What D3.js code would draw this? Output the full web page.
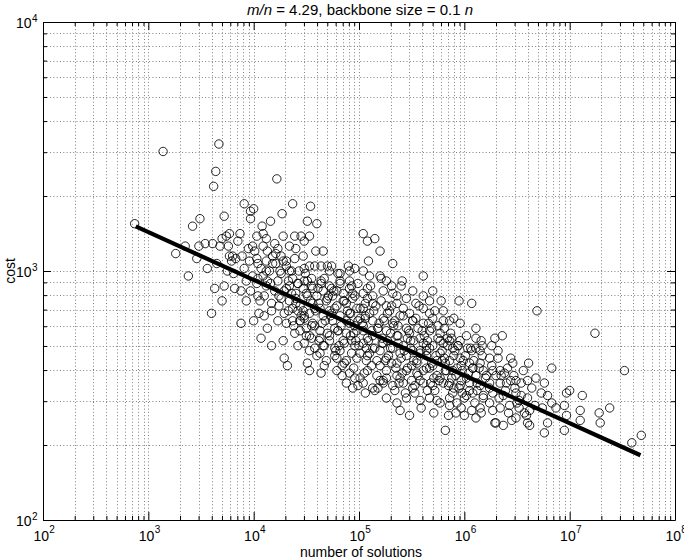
<!DOCTYPE html>
<html>
<head>
<meta charset="utf-8">
<script src="https://cdn.jsdelivr.net/npm/d3@7"></script>
<style>
  body { margin: 0; background: #fff; }
  svg { display: block; }
  text { font-family: "Liberation Sans", Arial, Helvetica, sans-serif; fill: #000; }
</style>
</head>
<body>
<svg id="chart" width="684" height="560"></svg>
<script>
// ---------------- data (log10 units of a log-log plot) ----------------
// log10(number of solutions) for each instance
const solutionsExp = [
  // sparse left part
  2.87,3.14,3.26,3.35,3.38,3.42,3.49,3.46,3.48,3.54, 3.56,3.61,3.62,3.64,3.67,3.60,3.63,3.65,3.68,3.70,
  3.70,3.72,3.72,3.74,3.76,3.77,3.87,3.77,3.80,3.83, 3.79,3.89,3.81,3.82,3.88,3.93,3.88,3.91,3.93,3.85,
  3.91,3.95,3.75,
  // 1e4 .. 3e4
  3.97,4.00,3.97,4.03,4.09,4.12,4.08,4.16,4.03,4.04, 4.12,4.18,4.15,4.09,4.03,4.12,4.22,4.37,4.27,4.28,
  4.39,4.13,4.21,4.26,4.31,4.40,4.39,4.21,4.28,4.31, 4.23,4.33,4.42,4.43,4.06,4.17,4.26,4.37,4.00,4.05,
  4.17,4.31,4.44,3.99,4.20,4.34,4.07,4.25,4.36,4.29, 4.40,3.97,4.20,4.34,4.23,4.13,4.07,4.28,4.39,4.17,
  4.29,4.32,4.42,4.24,4.42,4.10,3.96,3.99,4.13,4.34, 4.04,4.37,
  // 3e4 .. 1e5
  4.54,4.51,4.60,4.45,4.53,4.48,4.66,4.53,4.58,4.64, 4.70,4.74,4.90,4.96,4.80,4.47,4.56,4.64,4.72,4.82,
  4.56,4.48,4.72,4.91,4.47,4.59,
  4.48,4.55,4.82,4.91,4.99,
  4.50,4.60,4.66,4.75,4.85,4.94,
  4.63,4.69,4.79,4.88,4.98,4.44,
  4.48,4.66,4.75,4.82,4.91,5.01,
  4.44,4.53,4.63,4.72,4.80,4.88,4.98,
  4.48,4.58,4.67,4.77,4.86,4.96,
  4.51,4.60,4.69,4.79,4.88,4.98,
  4.53,4.64,4.79,4.84,4.91,5.01,
  4.88,4.94,4.99,
  // 1e5 .. 7e5
  5.04,5.08,5.15,5.20,5.09,5.32,5.61,5.04,5.10,5.20, 5.21,5.26,5.41,5.40,5.45,5.54,5.67,5.78,
  5.04,5.13,5.23,5.32,5.51,5.61,5.70,
  5.04,5.13,5.26,5.36,5.61,5.80,
  5.06,5.13,5.23,5.32,5.42,5.51,5.61,5.70,5.80,
  5.04,5.13,5.26,5.36,5.48,5.58,5.67,5.77,
  5.04,5.13,5.23,5.32,5.42,5.51,5.61,5.70,5.80,
  5.08,5.17,5.26,5.36,5.45,5.55,5.64,5.74,5.81,
  5.08,5.17,5.26,5.36,5.45,5.55,5.64,5.74,5.83,
  5.04,5.13,5.23,5.32,5.42,5.51,5.61,5.70,5.80,
  5.26,5.36,5.45,5.58,5.67,5.77,
  5.39,5.48,5.59,5.71,5.85,
  5.82,5.15,
  // core, second layer
  4.55,4.74,4.93,5.08,5.31,
  4.53,4.72,4.91,5.10,5.29,5.48,5.67,
  4.58,4.77,4.96,5.18,5.37,5.56,5.75,
  4.55,4.72,4.93,5.08,5.27,5.46,5.65,5.84,
  4.63,4.82,5.01,5.20,5.39,5.58,5.77,
  4.67,4.86,5.12,5.31,5.50,5.69,
  4.96,5.20,5.39,5.58,5.77,
  5.06,5.34,5.53,5.72,
  // 7e5 and up
  5.95,6.07,6.69,5.90,6.11,6.02,5.88,5.86,5.96,5.94,
  5.89,6.16,6.17,6.29,6.36,6.26,6.07,6.03,6.11,6.15,
  5.86,5.96,6.05,6.15,6.24,6.32,6.44,6.46,6.61,6.83,
  5.89,5.98,6.08,6.18,6.27,6.34,6.38,6.30,6.21,6.11,
  6.02,5.92,6.68,6.60,6.44,6.49,6.54,6.40,6.48,5.86,
  5.96,6.05,6.15,6.24,6.34,6.73,6.79,6.97,7.00,7.12,
  5.89,5.98,6.08,6.18,6.27,6.37,6.49,6.60,6.52,6.83,
  6.95,6.87,7.10,7.38,7.28,5.86,5.97,6.07,6.16,6.24,
  6.34,6.43,6.52,6.62,6.59,5.92,6.00,6.11,6.29,6.37,
  6.45,6.49,6.62,6.60,6.79,6.97,6.95,6.76,7.10,7.29,
  7.59,7.68,7.24,7.52,6.30,5.86,
  // core, third layer (dense band along the trend)
  4.01,4.04, 4.09,4.12,4.10, 4.18,4.16, 4.23,4.26,4.24, 4.31,4.29, 4.37,4.40,4.38, 4.47,4.45,
  4.51,4.54,4.50,4.53, 4.61,4.59,4.62, 4.67,4.70,4.68,4.66, 4.76,4.74,4.77, 4.82,4.85,4.83,4.81,4.84,
  4.91,4.89,4.92, 4.96,4.99,4.97,4.95, 5.06,5.04,5.07,5.05, 5.11,5.14,5.12,5.10, 5.21,5.19,5.22,5.20,5.18,
  5.27,5.30,5.28,5.26, 5.36,5.34,5.37,5.35, 5.42,5.45,5.43,5.41,5.44, 5.51,5.49,5.52,5.50,
  5.57,5.60,5.58,5.56, 5.66,5.64,5.67,5.65, 5.72,5.75,5.73,5.71,5.74, 5.81,5.79,5.82,
  5.87,5.90,5.88,5.86, 5.96,5.94,5.97,5.95,5.93, 6.01,6.04,6.02, 6.11,6.09,6.12,6.10,
  6.17,6.20,6.18, 6.26,6.24,6.27, 6.32,6.35,6.33, 6.41,6.39,6.42, 6.47,6.50, 6.56,6.54,6.57,
  6.64,6.67, 6.76,6.74,
  // core, fourth layer
  4.34,4.36,4.33, 4.42,4.40,4.44, 4.49,4.51,4.48,4.50, 4.56,4.58,4.55, 4.64,4.62,4.65,4.63,
  4.71,4.73,4.70, 4.79,4.77,4.80,4.78, 4.86,4.88,4.85, 4.94,4.92,4.95,4.93, 5.01,5.03,5.00,
  5.08,5.06,5.09,5.07, 5.16,5.18,5.15, 5.24,5.22,5.25,5.23, 5.31,5.33,5.30, 5.39,5.37,5.40,5.38,
  5.47,5.49,5.46, 5.54,5.52,5.55,5.53, 5.62,5.64,5.61, 5.69,5.67,5.70,5.68, 5.77,5.79,5.76,
  5.84,5.82,5.85, 5.91,5.93,5.90, 5.99,5.97,6.00, 6.06,6.08,6.05, 6.14,6.12,6.15
];
// log10(cost) for each instance, same order
const costExp = [
  3.19,3.48,3.07,3.10,2.98,3.18,3.21,3.05,3.10,3.11, 3.01,3.11,3.34,3.40,3.51,2.83,2.93,3.03,3.10,3.13,
  2.88,3.22,2.94,3.14,3.10,3.15,3.15,3.06,3.06,3.05, 3.04,3.06,2.99,2.93,2.92,2.88,2.79,3.27,2.96,3.12,
  3.01,3.09,3.00,
  3.24,3.25,3.21,3.14,3.15,3.13,3.18,3.20,3.05,3.03, 3.04,3.03,3.00,2.98,2.95,2.94,3.37,3.27,3.23,3.14,
  3.14,3.08,3.07,3.06,3.04,3.09,3.05,3.03,3.04,3.02, 2.96,2.96,2.95,3.00,2.88,2.87,2.89,2.85,2.80,2.83,
  2.84,2.79,2.80,3.10,3.11,3.10,3.01,3.00,3.00,2.92, 2.91,2.92,2.92,2.88,2.80,2.77,2.73,2.72,2.75,2.70,
  2.65,2.62,2.70,2.86,2.84,2.82,3.04,2.98,2.96,2.94, 2.90,2.80,
  3.26,3.20,3.19,3.14,3.14,3.12,3.08,3.02,3.02,3.02, 3.02,3.02,3.02,3.01,2.99,2.84,2.87,2.96,2.94,2.99,
  2.79,3.01,3.00,3.00,3.06,3.08,
  2.96,2.97,2.95,2.96,2.95,
  2.91,2.90,2.92,2.90,2.91,2.89,
  2.85,2.88,2.86,2.87,2.85,2.86,
  2.81,2.82,2.80,2.82,2.79,2.81,
  2.76,2.74,2.76,2.74,2.76,2.75,2.76,
  2.71,2.69,2.70,2.69,2.71,2.70,
  2.63,2.66,2.64,2.65,2.64,2.65,
  2.60,2.59,2.60,2.58,2.59,2.57,
  2.55,2.53,2.54,
  3.15,3.12,3.13,3.08,3.04,3.03,2.98,3.00,2.98,2.98, 2.97,2.96,2.96,2.94,2.89,2.87,2.88,2.88,
  2.91,2.90,2.92,2.91,2.92,2.90,2.92,
  2.85,2.87,2.86,2.87,2.85,2.84,
  2.82,2.80,2.81,2.79,2.82,2.80,2.79,2.81,2.80,
  2.76,2.74,2.76,2.74,2.75,2.73,2.76,2.75,
  2.71,2.69,2.71,2.69,2.70,2.68,2.71,2.70,2.71,
  2.66,2.64,2.65,2.63,2.66,2.64,2.66,2.64,2.65,
  2.60,2.58,2.60,2.58,2.60,2.59,2.61,2.58,2.60,
  2.55,2.53,2.55,2.54,2.55,2.53,2.55,2.54,2.55,
  2.49,2.47,2.49,2.48,2.49,2.47,
  2.44,2.42,2.45,2.43,2.42,
  2.36,2.52,
  2.94,2.93,2.94,2.93,2.94,
  2.83,2.84,2.83,2.83,2.84,2.83,2.83,
  2.78,2.77,2.78,2.77,2.78,2.77,2.78,
  2.73,2.72,2.72,2.73,2.72,2.73,2.72,2.73,
  2.67,2.68,2.67,2.68,2.67,2.68,2.67,
  2.62,2.63,2.62,2.63,2.62,2.63,
  2.57,2.56,2.57,2.56,2.57,
  2.51,2.52,2.51,2.52,
  2.88,2.87,2.84,2.81,2.77,2.74,2.73,2.72,2.72,2.70,
  2.69,2.72,2.70,2.73,2.74,2.70,2.68,2.69,2.69,2.68,
  2.64,2.65,2.63,2.63,2.65,2.65,2.65,2.63,2.63,2.61,
  2.60,2.60,2.61,2.60,2.60,2.60,2.59,2.58,2.58,2.58,
  2.57,2.58,2.57,2.56,2.56,2.56,2.55,2.55,2.53,2.55,
  2.54,2.55,2.54,2.55,2.55,2.51,2.50,2.51,2.52,2.50,
  2.51,2.51,2.51,2.50,2.51,2.50,2.51,2.49,2.48,2.47,
  2.46,2.45,2.44,2.45,2.43,2.46,2.45,2.44,2.43,2.47,
  2.45,2.46,2.45,2.44,2.42,2.43,2.42,2.41,2.39,2.38,
  2.40,2.41,2.38,2.39,2.39,2.42,2.36,2.35,2.40,2.39,
  2.31,2.34,2.75,2.60,2.39,2.80,
  3.08,2.97, 3.10,3.00,2.90, 3.06,2.95, 3.09,2.99,2.90, 2.93,2.83, 2.97,2.87,2.78, 2.93,2.82,
  2.96,2.88,2.77,2.68, 2.93,2.84,2.72, 2.97,2.89,2.80,2.70, 2.92,2.83,2.66, 2.96,2.88,2.78,2.70,2.62,
  2.93,2.84,2.74, 2.90,2.80,2.72,2.61, 2.87,2.78,2.69,2.59, 2.94,2.84,2.76,2.67, 2.88,2.79,2.71,2.62,2.53,
  2.83,2.75,2.66,2.57, 2.90,2.80,2.71,2.61, 2.85,2.77,2.68,2.59,2.51, 2.80,2.72,2.64,2.56,
  2.86,2.76,2.67,2.58, 2.79,2.70,2.61,2.52, 2.84,2.73,2.66,2.57,2.48, 2.77,2.68,2.60,
  2.75,2.66,2.57,2.49, 2.79,2.70,2.62,2.53,2.47, 2.66,2.59,2.50, 2.73,2.64,2.55,2.47,
  2.66,2.57,2.49, 2.62,2.53,2.44, 2.68,2.58,2.49, 2.61,2.52,2.43, 2.58,2.47, 2.60,2.50,2.43,
  2.53,2.46, 2.55,2.45,
  3.00,2.91,2.84, 2.95,2.89,2.80, 2.99,2.90,2.82,2.74, 2.93,2.85,2.78, 2.95,2.87,2.79,2.73,
  2.90,2.82,2.75, 2.92,2.85,2.76,2.68, 2.88,2.80,2.72, 2.91,2.83,2.75,2.67, 2.85,2.79,2.70,
  2.89,2.81,2.72,2.64, 2.86,2.77,2.69, 2.80,2.73,2.64,2.56, 2.86,2.78,2.69, 2.82,2.74,2.65,2.55,
  2.76,2.69,2.61, 2.81,2.72,2.63,2.54, 2.74,2.68,2.60, 2.77,2.69,2.62,2.55, 2.72,2.64,2.56,
  2.70,2.63,2.54, 2.68,2.61,2.53, 2.64,2.56,2.49, 2.69,2.61,2.52, 2.61,2.52,2.45
];
// fitted trend line (end points)
const fitSolutions = [760, 4.7e7];
const fitCost = [1510, 182];
// tick labels (powers of ten)
const xTickExponents = [2, 3, 4, 5, 6, 7, 8];
const yTickExponents = [2, 3, 4];
const minorMultipliers = [2, 3, 4, 5, 6, 7, 8, 9];
const xTitle = "number of solutions";
const yTitle = "cost";
const titleParts = [
  { text: "m/n", italic: true },
  { text: " = 4.29, backbone size = 0.1 ", italic: false },
  { text: "n", italic: true }
];

// ---------------- drawing ----------------
const solutions = solutionsExp.map(e => Math.pow(10, e));
const cost = costExp.map(e => Math.pow(10, e));
const points = d3.zip(solutions, cost);

const svg = d3.select("#chart");
const L = 43, R = 675, T = 22, B = 520;
const x = d3.scaleLog().domain([1e2, 1e8]).range([L, R]);
const y = d3.scaleLog().domain([1e2, 1e4]).range([B, T]);

const xMajor = xTickExponents.map(e => Math.pow(10, e));
const yMajor = yTickExponents.map(e => Math.pow(10, e));
const minorOf = exps => exps.slice(0, -1).flatMap(e => minorMultipliers.map(k => k * Math.pow(10, e)));
const xMinor = minorOf(xTickExponents);
const yMinor = minorOf(yTickExponents);

// dotted grid (major + minor)
const grid = svg.append("g").attr("stroke", "#808080").attr("stroke-width", 1)
  .attr("stroke-dasharray", "1,2.3").attr("fill", "none");
const xGrid = xMajor.concat(xMinor).filter(v => v > 1e2 && v < 1e8);
const yGrid = yMajor.concat(yMinor).filter(v => v > 1e2 && v < 1e4);
grid.selectAll("line.gx").data(xGrid).join("line").attr("class", "gx")
  .attr("x1", d => Math.round(x(d)) + 0.5).attr("x2", d => Math.round(x(d)) + 0.5)
  .attr("y1", T + 0.5).attr("y2", B + 0.5);
grid.selectAll("line.gy").data(yGrid).join("line").attr("class", "gy")
  .attr("y1", d => Math.round(y(d)) + 0.5).attr("y2", d => Math.round(y(d)) + 0.5)
  .attr("x1", L + 0.5).attr("x2", R + 0.5);

// scatter of open circles
svg.append("g").selectAll("circle").data(points).join("circle")
  .attr("cx", d => x(d[0])).attr("cy", d => y(d[1])).attr("r", 4.2)
  .attr("fill", "none").attr("stroke", "#000").attr("stroke-width", 0.85);

// trend line
const fit = d3.zip(fitSolutions, fitCost);
svg.append("path").datum(fit)
  .attr("d", d3.line().x(d => x(d[0])).y(d => y(d[1])))
  .attr("fill", "none").attr("stroke", "#000").attr("stroke-width", 4.2);

// axes (ticks inside, on all four sides)
const majorLen = 8, minorLen = 4;
function addAxis(gen, scale, transform, major, minor) {
  const gMaj = svg.append("g").attr("transform", transform)
    .call(gen(scale).tickValues(major).tickSizeInner(-majorLen).tickSizeOuter(0).tickFormat(""));
  const gMin = svg.append("g").attr("transform", transform)
    .call(gen(scale).tickValues(minor).tickSizeInner(-minorLen).tickSizeOuter(0).tickFormat(""));
  gMin.select(".domain").remove();
  [gMaj, gMin].forEach(g => {
    g.selectAll("line").attr("stroke", "#000");
    g.select(".domain").attr("stroke", "#000");
    g.selectAll("text").remove();
  });
}
addAxis(d3.axisBottom, x, `translate(0,${B})`, xMajor, xMinor);
addAxis(d3.axisTop, x, `translate(0,${T})`, xMajor, xMinor);
addAxis(d3.axisLeft, y, `translate(${L},0)`, yMajor, yMinor);
addAxis(d3.axisRight, y, `translate(${R},0)`, yMajor, yMinor);

// tick labels: 10 with superscript exponent
const baseSize = 14, expSize = 10;
const probe = svg.append("text").attr("font-size", baseSize).text("10");
const baseW = probe.node().getComputedTextLength();
probe.remove();

const xl = svg.append("g");
xMajor.forEach((v, i) => {
  const cx = x(v) + 0.5;
  const ex = xl.append("text").attr("y", B + 13).attr("font-size", expSize).text(xTickExponents[i]);
  const w = ex.node().getComputedTextLength();
  const baseCenter = cx - w / 2 + 0.5;
  ex.attr("x", baseCenter + baseW / 2 + 0.3);
  xl.append("text").attr("x", baseCenter).attr("y", B + 21).attr("text-anchor", "middle")
    .attr("font-size", baseSize).text("10");
});

const yl = svg.append("g");
yMajor.forEach((v, i) => {
  const cy = y(v) + 0.5;
  const ex = yl.append("text").attr("x", L - 5.5).attr("y", cy - 1).attr("text-anchor", "end")
    .attr("font-size", expSize).text(yTickExponents[i]);
  const w = ex.node().getComputedTextLength();
  yl.append("text").attr("x", L - 5.5 - w - 0.3).attr("y", cy + 5).attr("text-anchor", "end")
    .attr("font-size", baseSize).text("10");
});

// axis titles
svg.append("text").attr("x", (L + R) / 2 + 2).attr("y", 557).attr("text-anchor", "middle")
  .attr("font-size", 14).text(xTitle);
svg.append("text").attr("transform", `translate(15,${(T + B) / 2}) rotate(-90)`)
  .attr("text-anchor", "middle").attr("font-size", 14).text(yTitle);

// title
const title = svg.append("text").attr("x", (L + R) / 2 + 1).attr("y", 15)
  .attr("text-anchor", "middle").attr("font-size", 15);
titleParts.forEach(p => {
  title.append("tspan").attr("font-style", p.italic ? "italic" : "normal").text(p.text);
});
</script>
</body>
</html>
